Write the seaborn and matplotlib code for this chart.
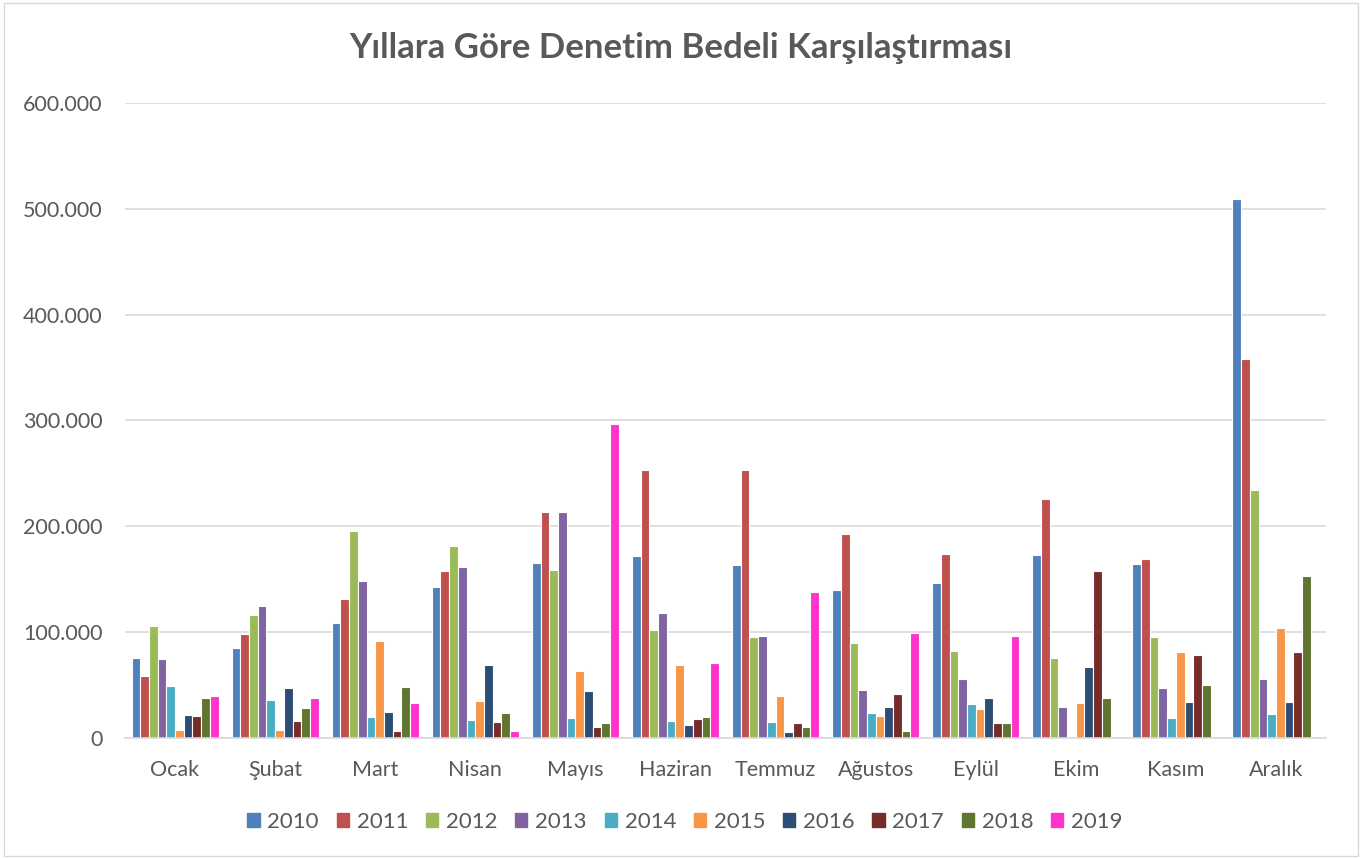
import pandas as pd
import matplotlib.pyplot as plt
import matplotlib.ticker as mticker
from matplotlib.patches import Rectangle
import seaborn as sns

months = ['Ocak', 'Şubat', 'Mart', 'Nisan', 'Mayıs', 'Haziran',
          'Temmuz', 'Ağustos', 'Eylül', 'Ekim', 'Kasım', 'Aralık']
years = ['2010', '2011', '2012', '2013', '2014',
         '2015', '2016', '2017', '2018', '2019']

# values per year, one entry per month
v2010 = [76000, 85000, 109000, 143000, 165000, 172000, 163000, 140000, 146000, 173000, 164000, 509000]
v2011 = [59000, 98000, 131000, 158000, 214000, 253000, 253000, 193000, 174000, 226000, 169000, 358000]
v2012 = [106000, 116000, 196000, 181000, 159000, 102000, 95000, 90000, 82000, 76000, 95000, 234000]
v2013 = [75000, 125000, 148000, 162000, 214000, 118000, 96000, 45000, 56000, 29000, 47000, 56000]
v2014 = [49000, 36000, 20000, 17000, 19000, 16000, 15000, 24000, 32000, 0, 19000, 23000]
v2015 = [8000, 8000, 92000, 35000, 63000, 69000, 40000, 21000, 27000, 33000, 81000, 104000]
v2016 = [22000, 47000, 25000, 69000, 44000, 12000, 6000, 29000, 38000, 67000, 34000, 34000]
v2017 = [21000, 16000, 7000, 15000, 10000, 18000, 14000, 42000, 14000, 158000, 78000, 81000]
v2018 = [38000, 28000, 48000, 24000, 14000, 20000, 10000, 7000, 14000, 38000, 50000, 153500]
v2019 = [39500, 38000, 33000, 7000, 297000, 71000, 138000, 99000, 96000, 0, 0, 0]

colors = ['#4F81BD', '#C0504D', '#9BBB59', '#8064A2', '#4BACC6',
          '#F79646', '#2C4D75', '#772C2A', '#5F7530', '#FF33CC']

series = [v2010, v2011, v2012, v2013, v2014, v2015, v2016, v2017, v2018, v2019]
rows = []
for y, vals in zip(years, series):
    for m, v in zip(months, vals):
        rows.append({'Ay': m, 'Yıl': y, 'Bedel': v})
df = pd.DataFrame(rows)

sns.set_theme(style='white')
plt.rcParams['font.family'] = ['Lato', 'DejaVu Sans']

fig = plt.figure(figsize=(13.62, 8.59), dpi=100)
ax = fig.add_axes([125 / 1362, 1 - 738 / 859, 1201 / 1362, 635 / 859])

sns.barplot(data=df, x='Ay', y='Bedel', hue='Yıl', order=months, hue_order=years,
            palette=colors, width=0.87, saturation=1, edgecolor='white',
            linewidth=0.8, ax=ax)

ax.set_ylim(0, 600000)
ax.set_yticks(range(0, 600001, 100000))
ax.yaxis.set_major_formatter(mticker.FuncFormatter(
    lambda v, p: '0' if v == 0 else f'{int(v):,}'.replace(',', '.')))
ax.grid(axis='y', color='#D9D9D9', linewidth=1.2)
ax.set_axisbelow(True)
for s in ['top', 'right', 'left']:
    ax.spines[s].set_visible(False)
ax.spines['bottom'].set_color('#D9D9D9')
ax.spines['bottom'].set_linewidth(1.2)
ax.tick_params(axis='both', length=0, labelsize=15.5, colors='#595959')
ax.tick_params(axis='x', pad=16)
ax.tick_params(axis='y', pad=16)
ax.set_xlabel('')
ax.set_ylabel('')

fig.suptitle('Yıllara Göre Denetim Bedeli Karşılaştırması', y=1 - 48 / 859,
             va='center', fontsize=25, fontweight='bold', color='#595959')

ax.get_legend().remove()
handles = [Rectangle((0, 0), 1, 1, color=c) for c in colors]
fig.legend(handles, years, loc='center', bbox_to_anchor=(0.503, 1 - 822 / 859),
           ncol=10, frameon=False, fontsize=16, handlelength=0.55, handleheight=0.6,
           handletextpad=0.35, columnspacing=0.8, labelcolor='#595959')

fig.patches.append(Rectangle((0.003, 0.003), 0.994, 0.994, transform=fig.transFigure,
                             fill=False, edgecolor='#D9D9D9', linewidth=1))

fig.savefig('out.png', dpi=100)
